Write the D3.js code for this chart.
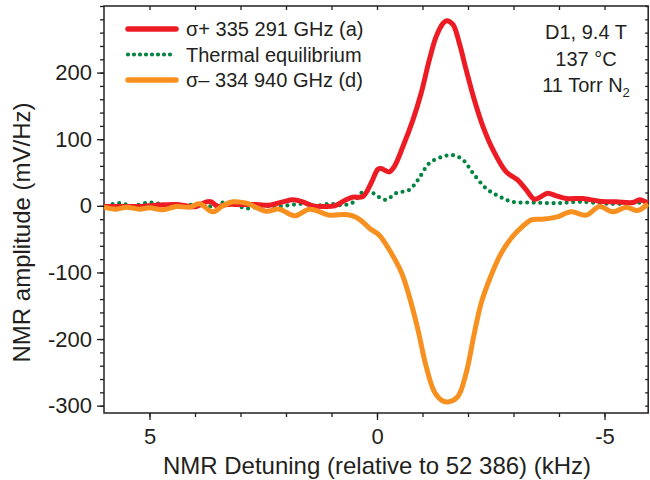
<!DOCTYPE html>
<html>
<head>
<meta charset="utf-8">
<script src="https://cdn.jsdelivr.net/npm/d3@7"></script>
<style>
  body { margin: 0; background: #fff; }
  svg { display: block; font-family: "Liberation Sans", Arial, sans-serif; }
</style>
</head>
<body>
<div id="chart"></div>
<script>
// detuning in kHz, amplitude in mV/Hz
var sigmaPlus = [
  [6.0,-1],[5.6,-1],[5.2,-1],[4.85,1],[4.4,2],[4.2,0],[3.97,-1],[3.75,6],[3.64,6],[3.5,-1],
  [3.3,2],[3.0,2],[2.65,2],[2.36,1],[2.07,6],[1.85,9],[1.63,6],[1.41,0],[1.19,-1],[0.93,0],
  [0.68,9],[0.53,13],[0.31,14],[0.13,34],[-0.02,55],[-0.09,56],[-0.27,51],[-0.38,59],[-0.57,89],
  [-0.79,129],[-0.97,169],[-1.15,219],[-1.30,254],[-1.45,274],[-1.53,278],[-1.67,272],[-1.81,244],
  [-1.96,204],[-2.14,159],[-2.33,119],[-2.55,84],[-2.84,51],[-3.09,39],[-3.28,24],[-3.46,10],
  [-3.61,14],[-3.75,19],[-3.94,15],[-4.16,11],[-4.52,11],[-4.89,7],[-5.26,6],[-5.62,5],[-5.77,9],[-5.95,4]
];
var thermal = [
  [5.95,0],[5.66,4],[5.37,0],[5.0,5],[4.63,1],[4.27,-1],[3.97,3],[3.61,-1],[3.39,5],[3.09,1],
  [2.87,-4],[2.51,0],[2.22,-1],[1.92,1],[1.63,3],[1.34,0],[1.04,3],[0.75,1],[0.53,5],[0.31,21],
  [0.16,22],[-0.02,14],[-0.20,9],[-0.42,19],[-0.71,24],[-0.90,39],[-1.15,64],[-1.45,74],[-1.67,76],
  [-1.89,69],[-2.11,49],[-2.40,26],[-2.69,14],[-2.98,6],[-3.42,5],[-3.94,4],[-4.46,6],[-5.11,3],
  [-5.63,4],[-5.95,6]
];
var sigmaMinus = [
  [6.0,-2],[5.73,-5],[5.51,-2],[5.22,-5],[5.0,-3],[4.71,-6],[4.41,-1],[4.12,-2],[3.90,3],[3.61,-9],
  [3.39,0],[3.17,6],[2.87,4],[2.44,-8],[2.15,-5],[1.81,-15],[1.48,-5],[1.04,-14],[0.68,-13],[0.46,-17],
  [0.30,-25],[0.16,-34],[-0.05,-44],[-0.27,-66],[-0.53,-99],[-0.71,-136],[-0.90,-186],[-1.08,-241],
  [-1.26,-279],[-1.45,-293],[-1.59,-294],[-1.78,-286],[-1.96,-251],[-2.14,-191],[-2.29,-146],
  [-2.47,-111],[-2.73,-71],[-2.98,-46],[-3.20,-31],[-3.39,-21],[-3.64,-20],[-3.94,-17],[-4.27,-9],
  [-4.60,-14],[-4.89,-1],[-5.18,-9],[-5.48,-2],[-5.73,-7],[-5.95,3]
];

var legendLabels = ["\u03c3+ 335 291 GHz (a)", "Thermal equilibrium", "\u03c3\u2013 334 940 GHz (d)"];
var xTickLabels = [5, 0, -5];
var yTickLabels = [-300, -200, -100, 0, 100, 200];
var noteLines = ["D1, 9.4 T", "137 \u00b0C", "11 Torr N"];

var width = 650, height = 480;
var axisColor = "#231f20";

var x = d3.scaleLinear().domain([6, -6]).range([104, 650]);
var y = d3.scaleLinear().domain([-311, 300]).range([413, 6]);
var x0 = x(6), x1 = x(-5.96), yTop = y(300), yBot = y(-311);

var svg = d3.select("#chart").append("svg")
    .attr("width", width)
    .attr("height", height);

// minor ticks (no labels)
var yMinor = d3.range(-300, 301, 20);
var xMinor = d3.range(-5, 6, 1);

function ticksOnly(g) {
  g.select(".domain").remove();
  g.selectAll(".tick text").remove();
}

svg.append("g")
    .attr("transform", "translate(" + x0 + ",0)")
    .call(d3.axisLeft(y).tickValues(yMinor).tickSize(4))
    .call(ticksOnly);

svg.append("g")
    .attr("transform", "translate(0," + yBot + ")")
    .call(d3.axisBottom(x).tickValues(xMinor).tickSize(4))
    .call(ticksOnly);

// mirror ticks on top and right
svg.append("g")
    .attr("transform", "translate(0," + yTop + ")")
    .call(d3.axisBottom(x).tickValues(xMinor).tickSize(4))
    .call(ticksOnly);

svg.append("g")
    .attr("transform", "translate(" + x1 + ",0)")
    .call(d3.axisLeft(y).tickValues(yMinor).tickSize(3))
    .call(ticksOnly);

// labelled major ticks
svg.append("g")
    .attr("class", "y axis")
    .attr("transform", "translate(" + x0 + ",0)")
    .call(d3.axisLeft(y).tickValues(yTickLabels).tickSize(7).tickPadding(5).tickFormat(d3.format("d")))
    .call(function(g) { g.select(".domain").remove(); });

svg.append("g")
    .attr("class", "x axis")
    .attr("transform", "translate(0," + yBot + ")")
    .call(d3.axisBottom(x).tickValues(xTickLabels).tickSize(7).tickPadding(8).tickFormat(d3.format("d")))
    .call(function(g) { g.select(".domain").remove(); });

svg.selectAll(".tick line").attr("stroke", axisColor).attr("stroke-width", 1.3);
svg.selectAll(".axis .tick text").attr("fill", axisColor).style("font-size", "22px")
    .text(function(d) { return d < 0 ? "-" + Math.abs(d) : d; });

svg.append("rect")
    .attr("x", x0).attr("y", yTop)
    .attr("width", x1 - x0).attr("height", yBot - yTop)
    .attr("fill", "none")
    .attr("stroke", axisColor)
    .attr("stroke-width", 1.5);

// curves
var line = d3.line()
    .x(function(d) { return x(d[0]); })
    .y(function(d) { return y(d[1]); })
    .curve(d3.curveCatmullRom.alpha(0.5));

svg.append("path")
    .datum(thermal)
    .attr("d", line)
    .attr("fill", "none")
    .attr("stroke", "#00843f")
    .attr("stroke-width", 4.2)
    .attr("stroke-linecap", "round")
    .attr("stroke-dasharray", "0 6.6");

svg.append("path")
    .datum(sigmaPlus)
    .attr("d", line)
    .attr("fill", "none")
    .attr("stroke", "#ed1c24")
    .attr("stroke-width", 5)
    .attr("stroke-linejoin", "round");

svg.append("path")
    .datum(sigmaMinus)
    .attr("d", line)
    .attr("fill", "none")
    .attr("stroke", "#f7901e")
    .attr("stroke-width", 5)
    .attr("stroke-linejoin", "round");

// legend
var legendColors = ["#ed1c24", "#00843f", "#f7901e"];
var legend = svg.selectAll(".legend")
    .data(legendLabels)
  .enter().append("g")
    .attr("class", "legend")
    .attr("transform", function(d, i) { return "translate(128," + (29 + i * 25.5) + ")"; });

legend.append("line")
    .attr("x1", 0).attr("x2", 48)
    .attr("stroke", function(d, i) { return legendColors[i]; })
    .attr("stroke-width", function(d, i) { return i == 1 ? 4.2 : 5.5; })
    .attr("stroke-linecap", "round")
    .attr("stroke-dasharray", function(d, i) { return i == 1 ? "0 6" : null; });

legend.append("text")
    .attr("x", 58)
    .attr("dy", ".35em")
    .attr("fill", axisColor)
    .style("font-size", "20px")
    .text(function(d) { return d; });

// conditions note
var note = svg.append("text")
    .attr("fill", axisColor)
    .style("font-size", "20px")
    .attr("text-anchor", "middle");
noteLines.forEach(function(t, i) {
  var ts = note.append("tspan").attr("x", 586).attr("y", 39 + i * 26.5).text(t);
  if (i == 2) ts.append("tspan").attr("dy", 5).style("font-size", "13px").text("2");
});

// axis titles
svg.append("text")
    .attr("x", x(0))
    .attr("y", 474)
    .attr("text-anchor", "middle")
    .attr("fill", axisColor)
    .style("font-size", "24px")
    .text("NMR Detuning (relative to 52 386) (kHz)");

svg.append("text")
    .attr("transform", "translate(30," + y(-40) + ") rotate(-90)")
    .attr("text-anchor", "middle")
    .attr("fill", axisColor)
    .style("font-size", "24px")
    .text("NMR amplitude (mV/Hz)");
</script>
</body>
</html>
